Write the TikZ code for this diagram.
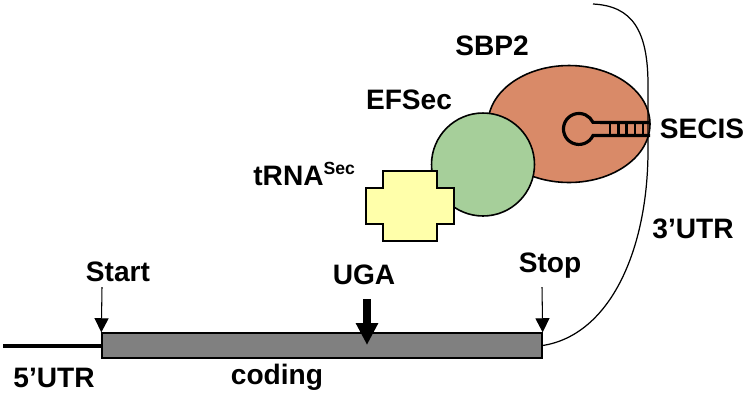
\documentclass[tikz,border=0pt]{standalone}
\usepackage{fontspec}
\setmainfont{Liberation Sans}
\usetikzlibrary{arrows.meta,shapes.geometric}

\definecolor{sbpfill}{HTML}{D98A68}
\definecolor{effill}{HTML}{A6CF9A}
\definecolor{trnafill}{HTML}{FFFFAA}
\definecolor{cdsfill}{HTML}{808080}

\tikzset{
  lbl/.style={anchor=base, inner sep=0pt, font=\fontsize{16}{19}\selectfont\bfseries},
  thinarrow/.style={-{Triangle[width=8pt,length=8pt]}, line width=0.6pt},
  fatarrow/.style={-{Triangle[width=12pt,length=12.5pt]}, line width=4pt},
}

\begin{document}
\begin{tikzpicture}[x=0.02cm, y=-0.02cm]
            \useasboundingbox (0,0) rectangle (750,400);

            % Nodes
            \node[draw, fill=cdsfill, line width=0.8pt, inner sep=0pt, minimum width=8.8cm, minimum height=0.5cm] (cds) at (322,345.5) {};
            \node[ellipse, draw, fill=sbpfill, line width=0.9pt, minimum width=3.24cm, minimum height=2.34cm] (sbp) at (569,124) {};
            \node[circle, draw, fill=effill, line width=0.9pt, inner sep=0pt, minimum size=2.06cm] (ef) at (483,164.5) {};

            % tRNA cross
            \draw[fill=trnafill, line width=0.9pt] (383,171) -- (437,171) -- (437,188) -- (454,188) -- (454,224) -- (437,224)
              -- (437,241) -- (383,241) -- (383,224) -- (366,224) -- (366,188) -- (383,188) -- cycle;

            % SECIS stem-loop
            \draw[line width=1.8pt] (650,135.5) -- (593,135.5) arc[start angle=25, end angle=335, radius=15.5] -- (650,122.5);
            \foreach \i in {0,...,4}
              \draw[line width=1.4pt] ({610+8.3*\i},122.5) -- ++(0,13);

            % Labels
            \node[lbl] (sbpLabel) at (492,55) {SBP2};
            \node[lbl] (efLabel) at (409,109) {EFSec};
            \node[lbl, anchor=base west] (trnaLabel) at (253,185) {tRNA\raisebox{6.2pt}{\fontsize{10}{12}\selectfont Sec}};
            \node[lbl] (secisLabel) at (702,138) {SECIS};
            \node[lbl] (utr3Label) at (693,238) {3'UTR};
            \node[lbl] (startLabel) at (118,281) {Start};
            \node[lbl] (ugaLabel) at (364,284) {UGA};
            \node[lbl] (stopLabel) at (550,272) {Stop};
            \node[lbl] (utr5Label) at (54,387) {5'UTR};
            \node[lbl] (codingLabel) at (277,384) {coding};

            % Edges
            \coordinate (utr5End) at (3,346);
            \coordinate (utr3End) at (593,4);
            \draw[line width=2.3pt] (utr5End) -- (utr5End -| cds.west);
            \draw[line width=0.7pt] (cds.east) .. controls (610,335) and (648,250) .. (648,150)
              -- (648,85) .. controls (648,30) and (632,6) .. (utr3End);

            \coordinate (startTop) at (102,287);
            \coordinate (stopTop) at (542,287);
            \coordinate (ugaTop) at (367,299);
            \coordinate (ugaTip) at (367,345);
            \draw[thinarrow] (startTop) -- (cds.north west);
            \draw[thinarrow] (stopTop) -- (cds.north east);
            \draw[fatarrow] (ugaTop) -- (ugaTip);
        \end{tikzpicture}
\end{document}
